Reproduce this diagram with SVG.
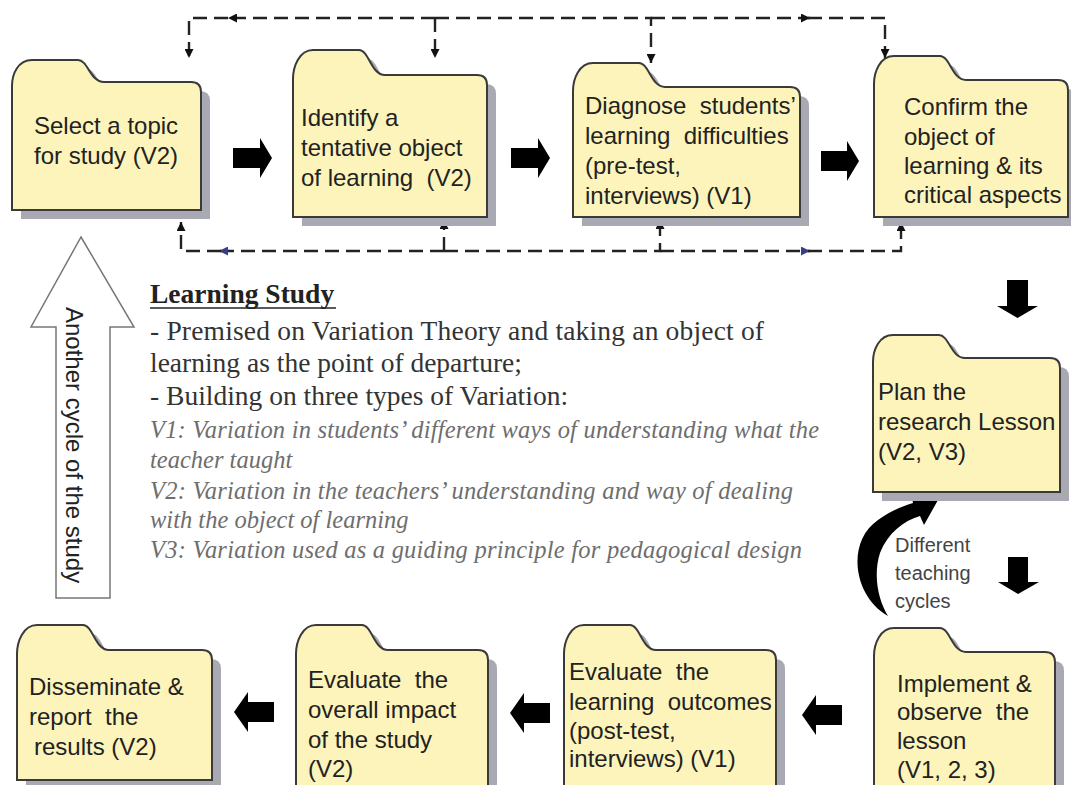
<svg xmlns="http://www.w3.org/2000/svg" xmlns:xlink="http://www.w3.org/1999/xlink" width="1071" height="785" viewBox="0 0 1071 785">
<style>
.sh{fill:#a9a9b3;stroke:none}
.fd{fill:#fcf4bb;stroke:#3a3a3a;stroke-width:2}
.ft{font-family:"Liberation Sans",Arial,sans-serif;font-size:24px;fill:#222;white-space:pre}
.dash{fill:none;stroke:#222;stroke-width:2.4;stroke-dasharray:14 7}
.blk{fill:#000}
.tm{font-family:"Liberation Serif","Times New Roman",serif;font-size:27.5px;fill:#333}
.it{font-family:"Liberation Serif","Times New Roman",serif;font-size:24.5px;font-style:italic;fill:#6e6e6e}
.lbl{font-family:"Liberation Sans",Arial,sans-serif;font-size:20px;fill:#444}
</style>
<defs>
<marker id="ah" viewBox="0 0 10 10" refX="10" refY="5" markerWidth="9" markerHeight="9" markerUnits="userSpaceOnUse" orient="auto"><path d="M0,0 L10,5 L0,10 z" fill="#111"/></marker>
<marker id="ahb" viewBox="0 0 10 10" refX="10" refY="5" markerWidth="9" markerHeight="9" markerUnits="userSpaceOnUse" orient="auto"><path d="M0,0 L10,5 L0,10 z" fill="#3b3b8c"/></marker>
<path id="p1" d="M12,86 C12,74 18,60 32,60 L78,60 C88,60 90,82 104,82 L191,82 Q201,82 201,92 L201,210 L12,210 Z"/>
<path id="p2" d="M293,79 C293,67 299,50 313,50 L359,50 C369,50 371,75 385,75 L477,75 Q487,75 487,85 L487,217 L293,217 Z"/>
<path id="p3" d="M573,91 C573,79 579,63 593,63 L639,63 C649,63 651,87 665,87 L790,87 Q800,87 800,97 L800,217 L573,217 Z"/>
<path id="p4" d="M874,84 C874,72 880,56 894,56 L940,56 C950,56 952,80 966,80 L1058,80 Q1068,80 1068,90 L1068,217 L874,217 Z"/>
<path id="p5" d="M873,362 C873,350 879,335 893,335 L939,335 C949,335 951,358 965,358 L1050,358 Q1060,358 1060,368 L1060,492 L873,492 Z"/>
<path id="p6" d="M874,656 C874,644 880,628 894,628 L940,628 C950,628 952,652 966,652 L1045,652 Q1055,652 1055,662 L1055,800 L874,800 Z"/>
<path id="p7" d="M564,654 C564,642 570,625 584,625 L630,625 C640,625 642,650 656,650 L766,650 Q776,650 776,660 L776,800 L564,800 Z"/>
<path id="p8" d="M296,654 C296,642 302,625 316,625 L362,625 C372,625 374,650 388,650 L478,650 Q488,650 488,660 L488,800 L296,800 Z"/>
<path id="p9" d="M17,654 C17,642 23,625 37,625 L83,625 C93,625 95,650 109,650 L202,650 Q212,650 212,660 L212,780 L17,780 Z"/>
</defs>
<rect width="1071" height="785" fill="#fff"/>

<g id="connectors">
<path class="dash" d="M435,18 L228,18" marker-end="url(#ah)"/>
<path class="dash" d="M228,18 L189,18 L189,58" marker-end="url(#ah)"/>
<path class="dash" d="M435,18 L435,58" marker-end="url(#ah)"/>
<path class="dash" d="M435,18 L651,18 L651,63" marker-end="url(#ah)"/>
<path class="dash" d="M651,18 L810,18" marker-end="url(#ah)"/>
<path class="dash" d="M808,18 L885,18 L885,58" marker-end="url(#ah)"/>
<path class="dash" d="M444,251 L219,251" marker-end="url(#ahb)"/>
<path class="dash" d="M221,251 L181,251 L181,222" marker-end="url(#ah)"/>
<path class="dash" d="M444,251 L444,220" marker-end="url(#ah)"/>
<path class="dash" d="M444,251 L660,251 L660,220" marker-end="url(#ah)"/>
<path class="dash" d="M660,251 L810,251" marker-end="url(#ahb)"/>
<path class="dash" d="M808,251 L901,251 L901,222" marker-end="url(#ah)"/>
<polygon class="blk" points="233,148 260,148 260,138 272,158 260,178 260,168 233,168"/>
<polygon class="blk" points="511,148 538,148 538,138 550,158 538,178 538,168 511,168"/>
<polygon class="blk" points="821,151 847,151 847,141 859,161 847,181 847,171 821,171"/>
<polygon class="blk" points="1007,280 1028,280 1028,306 1038,306 1017.5,318 997,306 1007,306"/>
<polygon class="blk" points="1008,557 1028,557 1028,582 1039,582 1018,594 998,582 1008,582"/>
<polygon class="blk" points="842,705 816,705 816,695 802,715 816,735 816,725 842,725"/>
<polygon class="blk" points="550,703 524,703 524,693 510,713 524,733 524,723 550,723"/>
<polygon class="blk" points="274,702 248,702 248,692 234,712 248,732 248,722 274,722"/>
<path class="blk" d="M888,616 C853,596 846,542 878,520 C889,512 900,507 913,503 L911,493 L938,500 L924,525 L920,516 C903,521 888,533 880,553 C873,575 878,600 888,616 Z"/>
<polygon points="81,237 134,327 110,327 110,598 56,598 56,327 31,327" fill="#fff" stroke="#777" stroke-width="1.5"/>
</g>

<g id="node-select"><use href="#p1" class="sh" transform="translate(9,9)"/><use href="#p1" class="fd"/>
<text class="ft" x="34" y="134">Select a topic</text><text class="ft" x="34" y="164">for study (V2)</text></g>
<g id="node-identify"><use href="#p2" class="sh" transform="translate(9,9)"/><use href="#p2" class="fd"/>
<text class="ft" x="301" y="126">Identify a</text><text class="ft" x="301" y="156">tentative object</text><text class="ft" x="301" y="186">of learning  (V2)</text></g>
<g id="node-diagnose"><use href="#p3" class="sh" transform="translate(9,9)"/><use href="#p3" class="fd"/>
<text class="ft" x="585" y="114">Diagnose  students’</text><text class="ft" x="585" y="144">learning  difficulties</text><text class="ft" x="585" y="174">(pre-test,</text><text class="ft" x="585" y="204">interviews) (V1)</text></g>
<g id="node-confirm"><use href="#p4" class="sh" transform="translate(9,9)"/><use href="#p4" class="fd"/>
<text class="ft" x="904" y="115">Confirm the</text><text class="ft" x="904" y="145">object of</text><text class="ft" x="904" y="174">learning &amp; its</text><text class="ft" x="904" y="203">critical aspects</text></g>
<g id="node-plan"><use href="#p5" class="sh" transform="translate(9,9)"/><use href="#p5" class="fd"/>
<text class="ft" x="878" y="400">Plan the</text><text class="ft" x="878" y="430">research Lesson</text><text class="ft" x="878" y="460">(V2, V3)</text></g>
<g id="node-implement"><use href="#p6" class="sh" transform="translate(9,9)"/><use href="#p6" class="fd"/>
<text class="ft" x="897" y="692">Implement &amp;</text><text class="ft" x="897" y="720">observe  the</text><text class="ft" x="897" y="749">lesson</text><text class="ft" x="897" y="778">(V1, 2, 3)</text></g>
<g id="node-evaluate-outcomes"><use href="#p7" class="sh" transform="translate(9,9)"/><use href="#p7" class="fd"/>
<text class="ft" x="569" y="680">Evaluate  the</text><text class="ft" x="569" y="710">learning  outcomes</text><text class="ft" x="569" y="739">(post-test,</text><text class="ft" x="569" y="767">interviews) (V1)</text></g>
<g id="node-evaluate-impact"><use href="#p8" class="sh" transform="translate(9,9)"/><use href="#p8" class="fd"/>
<text class="ft" x="308" y="688">Evaluate  the</text><text class="ft" x="308" y="718">overall impact</text><text class="ft" x="308" y="748">of the study</text><text class="ft" x="308" y="777">(V2)</text></g>
<g id="node-disseminate"><use href="#p9" class="sh" transform="translate(9,9)"/><use href="#p9" class="fd"/>
<text class="ft" x="29" y="695">Disseminate &amp;</text><text class="ft" x="29" y="725">report  the</text><text class="ft" x="34" y="755">results (V2)</text></g>

<g id="label-cycles">
<text class="lbl" x="895" y="552">Different</text><text class="lbl" x="895" y="580">teaching</text><text class="lbl" x="895" y="608">cycles</text>
</g>
<g id="label-another">
<text class="ft" style="font-size:24px" transform="translate(66,307) rotate(90)">Another cycle of the study</text>
</g>
<g id="learning-study-text">
<text class="tm" x="150" y="303" style="font-weight:bold;fill:#222">Learning Study</text>
<line x1="150" y1="308" x2="336" y2="308" stroke="#222" stroke-width="1.6"/>
<text class="tm" x="150" y="340" textLength="614" lengthAdjust="spacing">- Premised on Variation Theory and taking an object of</text>
<text class="tm" x="150" y="372">learning as the point of departure;</text>
<text class="tm" x="150" y="405">- Building on three types of Variation:</text>
<text class="it" x="150" y="438" textLength="669" lengthAdjust="spacing">V1: Variation in students’ different ways of understanding what the</text>
<text class="it" x="150" y="468">teacher taught</text>
<text class="it" x="150" y="499" textLength="643" lengthAdjust="spacing">V2: Variation in the teachers’ understanding and way of dealing</text>
<text class="it" x="150" y="528">with the object of learning</text>
<text class="it" x="150" y="558" textLength="652" lengthAdjust="spacing">V3: Variation used as a guiding principle for pedagogical design</text>
</g>
</svg>
